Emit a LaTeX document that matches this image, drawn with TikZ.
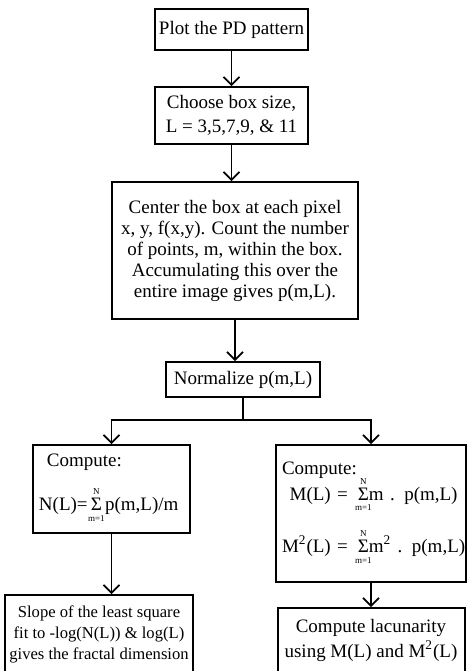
\documentclass[tikz,border=0pt]{standalone}
\usepackage{amsmath}
\usepackage{fontspec}
\setmainfont{Liberation Serif}
\usepackage{tikz}
\usetikzlibrary{%
  arrows.meta,
  positioning,
  calc}
\tikzset{
  %% Flow boxes
  stepbox/.style={
    rectangle, draw=black, line width=1pt, fill=white,
    align=center, inner sep=1.5pt,
    font=\fontsize{9.5}{10.5}\selectfont},
  %% Compute boxes (left aligned)
  calcbox/.style={
    rectangle, draw=black, line width=1pt, fill=white,
    align=left, inner sep=3pt,
    font=\fontsize{9.5}{11}\selectfont},
  %% Arrows
  arrow/.style={-{Straight Barb[length=4pt,width=8pt]}, line width=0.8pt, black},
  joint/.style={line width=0.8pt, black},
}
%% sum sign with tiny limits, in text
\newcommand{\limtxt}[1]{\makebox[0pt]{\fontsize{4.5}{5}\selectfont #1}}
\newcommand{\sumto}[2]{\ensuremath{\mathop{\text{Σ}}\limits_{\limtxt{#1}}^{\limtxt{#2}}}}

\begin{document}
\begin{tikzpicture}[node distance=18pt]

  \useasboundingbox (0,0) rectangle (234pt,-335.5pt);

  %% Main column
  \node[stepbox, minimum width=76.5pt, minimum height=20.5pt]
    (plot) at (115.75pt,-14.75pt) {Plot the PD pattern};
  \node[stepbox, minimum width=76.5pt, minimum height=28.5pt,
        below=17.5pt of plot, font=\fontsize{9.5}{12}\selectfont]
    (size) {Choose box size,\\L = 3,5,7,9, \& 11};
  \node[stepbox, minimum width=123pt, minimum height=68.5pt,
        below=18pt of size, xshift=1.75pt]
    (center) {Center the box at each pixel\\
              x, y, f(x,y). Count the number\\
              of points, m, within the box.\\
              Accumulating this over the\\
              entire image gives p(m,L).};
  \node[stepbox, minimum width=77pt, minimum height=17.5pt,
        below=20.5pt of center, xshift=4pt]
    (norm) {Normalize p(m,L)};

  \draw[arrow] (plot) -- (size);
  \draw[arrow] (size.south) -- (size.south |- center.north);
  \draw[arrow] (center.south) -- (center.south |- norm.north);

  %% Split
  \coordinate[below=11pt of norm] (split);

  %% Compute boxes
  \node[calcbox, text width=72.5pt, minimum height=44pt,
        below=23pt of norm, xshift=-65.75pt]
    (cmpn) {\hspace*{4pt}Compute:\\[7pt]
            \mbox{N(L)=\,\sumto{m=1}{N}\,p(m,L)/m}};
  \node[calcbox, text width=89pt, minimum height=68.5pt,
        below=23pt of norm, xshift=64pt]
    (cmpm) {Compute:\\[-2pt]
            \begin{tabular}{@{}r@{\hspace{5pt}}l@{}}
              M(L) = & \sumto{m=1}{N}m . p(m,L)\\[11pt]
              M\textsuperscript{2}(L) = & \sumto{m=1}{N}m\textsuperscript{2} . p(m,L)
            \end{tabular}};

  \draw[joint] (norm) -- (split);
  \draw[arrow] (split) -| (cmpn.north);
  \draw[arrow] (split) -| (cmpm.north);

  %% Results
  \node[stepbox, minimum width=94pt, minimum height=39.5pt,
        below=30pt of cmpn, xshift=-6.25pt, font=\fontsize{8.3}{10.5}\selectfont]
    (slope) {Slope of the least square\\
             fit to -log(N(L)) \& log(L)\\
             gives the fractal dimension};
  \node[stepbox, minimum width=93.5pt, minimum height=32pt,
        below=12pt of cmpm, font=\fontsize{9.5}{12.5}\selectfont]
    (lacu) {Compute lacunarity\\
            using M(L) and M\textsuperscript{2}(L)};

  \draw[arrow] (cmpn.south) -- (cmpn.south |- slope.north);
  \draw[arrow] (cmpm.south) -- (cmpm.south |- lacu.north);

\end{tikzpicture}
\end{document}
